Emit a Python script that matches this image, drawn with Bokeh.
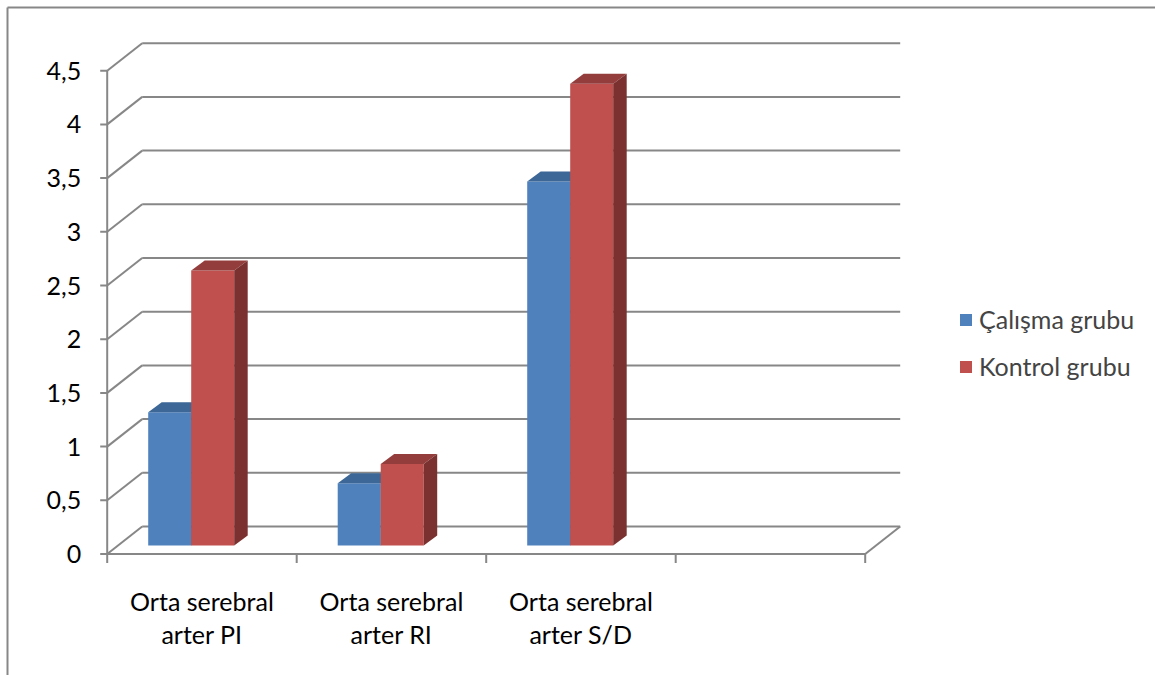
from bokeh.plotting import figure
from bokeh.models import Range1d, Legend, LegendItem
from bokeh.core.properties import value
from bokeh.embed import file_html
from bokeh.resources import INLINE

# ---------------- data ----------------
categories = ["Orta serebral\narter PI", "Orta serebral\narter RI", "Orta serebral\narter S/D"]
series_names = ["Çalışma grubu", "Kontrol grubu"]
calisma = [1.24, 0.58, 3.39]
kontrol = [2.56, 0.76, 4.30]
y_ticks = [0, 0.5, 1, 1.5, 2, 2.5, 3, 3.5, 4, 4.5]
y_tick_labels = ["0", "0,5", "1", "1,5", "2", "2,5", "3", "3,5", "4", "4,5"]
n_slots = 4  # category slots on the x axis (last one empty)

# ---------------- layout (pixel geometry) ----------------
W, H = 1155, 675
X0, CW = 106.7, 189.5   # px of category 0 left edge, px per category
Y0, VU = 553.5, 107.4   # px of value 0, px per value unit


def dxp(px):
    return px / CW


def dyp(px):
    return px / VU


def px_x(px):
    return (px - X0) / CW


def px_y(py):
    return (Y0 - py) / VU


DDX, DDY = dxp(35), dyp(27.5)      # depth of the 3D box
BDX, BDY = dxp(13.5), dyp(10)      # depth of a bar
BAR_W = dxp(43)
BAR_X = dxp(41)                    # bar group offset inside category
BAR_Y = dyp(8.5)                   # bar plane lift

FONT = "Lato"
FS = "25px"
GRID = "#878787"

p = figure(width=W, height=H,
           x_range=Range1d(px_x(0), px_x(W)),
           y_range=Range1d(px_y(H), px_y(0)),
           x_axis_type=None, y_axis_type=None,
           output_backend="svg", toolbar_location=None,
           min_border=0, outline_line_color=None)
p.xgrid.visible = False
p.ygrid.visible = False
p.background_fill_color = "white"

# outer chart border (left and top visible)
p.segment(x0=[px_x(7), px_x(7)], y0=[px_y(7), px_y(7)],
          x1=[px_x(7), px_x(W + 5)], y1=[px_y(H + 5), px_y(7)],
          line_color=GRID, line_width=2)

# back-wall gridlines
p.segment(x0=[DDX] * len(y_ticks), y0=[t + DDY for t in y_ticks],
          x1=[n_slots + DDX] * len(y_ticks), y1=[t + DDY for t in y_ticks],
          line_color=GRID, line_width=2)
# side-wall diagonals
p.segment(x0=[0] * len(y_ticks), y0=y_ticks,
          x1=[DDX] * len(y_ticks), y1=[t + DDY for t in y_ticks],
          line_color=GRID, line_width=2)
# floor front edge and right diagonal
p.segment(x0=[0, n_slots], y0=[0, 0], x1=[n_slots, n_slots + DDX], y1=[0, DDY],
          line_color=GRID, line_width=2)
# y axis line and ticks
p.segment(x0=[0], y0=[y_ticks[0]], x1=[0], y1=[y_ticks[-1]], line_color=GRID, line_width=2)
p.segment(x0=[-dxp(7)] * len(y_ticks), y0=y_ticks, x1=[0] * len(y_ticks), y1=y_ticks,
          line_color=GRID, line_width=2)
# x ticks
xt = list(range(n_slots + 1))
p.segment(x0=xt, y0=[0] * len(xt), x1=xt, y1=[-dyp(9)] * len(xt),
          line_color=GRID, line_width=2)

# y tick labels
p.text(x=[0] * len(y_ticks), y=y_ticks, text=y_tick_labels, x_offset=-26,
       text_align="right", text_baseline="middle",
       text_font=value(FONT), text_font_size=FS, text_color="#000000")

# category labels
line1 = [c.split("\n")[0] for c in categories]
line2 = [c.split("\n")[1] for c in categories]
cx = [i + 0.5 for i in range(len(categories))]
p.text(x=cx, y=[-dyp(46.5)] * len(cx), text=line1, text_align="center", text_baseline="middle",
       text_font=value(FONT), text_font_size=FS, text_color="#000000")
p.text(x=cx, y=[-dyp(79.5)] * len(cx), text=line2, text_align="center", text_baseline="middle",
       text_font=value(FONT), text_font_size=FS, text_color="#000000")

# 3D bars
styles = [("#4f81bd", "#3c6796", "#385d8a"), ("#c0504d", "#933e3c", "#7a312f")]
front_renderers = []
for s, vals in enumerate([calisma, kontrol]):
    front, top, side = styles[s]
    xl = [i + BAR_X + s * BAR_W for i in range(len(vals))]
    xr = [x + BAR_W for x in xl]
    bot = [BAR_Y] * len(vals)
    tp = [BAR_Y + v for v in vals]
    r = p.quad(left=xl, right=xr, bottom=bot, top=tp, fill_color=front, line_color=None)
    front_renderers.append(r)
    p.patches(xs=[[a, b, b + BDX, a + BDX] for a, b in zip(xl, xr)],
              ys=[[t, t, t + BDY, t + BDY] for t in tp],
              fill_color=top, line_color=None)
    p.patches(xs=[[b, b + BDX, b + BDX, b] for b in xr],
              ys=[[b0, b0 + BDY, t + BDY, t] for b0, t in zip(bot, tp)],
              fill_color=side, line_color=None)

legend = Legend(items=[LegendItem(label=series_names[i], renderers=[front_renderers[i]])
                       for i in range(2)],
                location=(958, 294), orientation="vertical",
                border_line_color=None, background_fill_alpha=0,
                padding=0, margin=0, spacing=17, label_height=30,
                glyph_height=15, glyph_width=15, label_standoff=6,
                label_text_font=FONT, label_text_font_size=FS,
                label_text_baseline="middle")
p.add_layout(legend)

open("out.html", "w").write(file_html(p, INLINE))
